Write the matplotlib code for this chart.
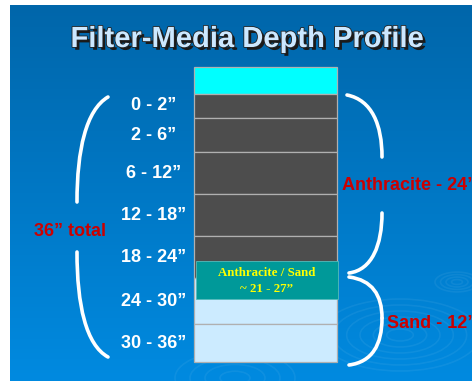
import numpy as np
import matplotlib
matplotlib.use("Agg")
import matplotlib.pyplot as plt
from matplotlib.path import Path
from matplotlib.patches import PathPatch, Ellipse
import matplotlib.patheffects as pe

# ---- data ----
title = "Filter-Media Depth Profile"
layer_names = ["Water", "0 - 2\u201d", "2 - 6\u201d", "6 - 12\u201d", "12 - 18\u201d",
               "18 - 24\u201d", "24 - 30\u201d", "30 - 36\u201d"]
layer_heights = [27, 24, 34, 42, 42, 42, 46, 38]          # schematic drawn heights
layer_colors = ["#00FFFF", "#4D4D4D", "#4D4D4D", "#4D4D4D", "#4D4D4D",
                "#4D4D4D", "#CCEBFF", "#CCEBFF"]
mix_label = "Anthracite / Sand\n~ 21 - 27\u201d"
mix_height = 38
total_label = "36\u201d total"
anthracite_label = "Anthracite - 24\u201d"
sand_label = "Sand - 12\u201d"

W, H = 472, 381
fig = plt.figure(figsize=(W / 100, H / 100), dpi=100)
fig.patch.set_facecolor("white")
ax = fig.add_axes([0, 0, 1, 1])
ax.set_xlim(0, W)
ax.set_ylim(H, 0)
ax.axis("off")

# background gradient
grad = np.linspace(0, 1, 256).reshape(-1, 1)
c_top = np.array([0, 102, 170]) / 255
c_bot = np.array([0, 138, 224]) / 255
img = c_top + (c_bot - c_top) * grad[..., None]
img = np.repeat(img, 2, axis=1)
ax.imshow(img, extent=[10, W + 5, H, 5], aspect="auto", zorder=0)

# faint ripples
for cx, cy, rmax, n in [(400, 335, 80, 6), (457, 282, 22, 4), (235, 378, 60, 4)]:
    for k in range(1, n + 1):
        r = rmax * k / n
        ax.add_patch(Ellipse((cx, cy), 2 * r, r * 0.9, fill=False,
                             ec=(1, 1, 1, 0.06), lw=1.2, zorder=1))

# title
ax.text(247, 47, title, ha="center", va="baseline", fontsize=21,
        family="Liberation Sans", weight="bold", color="#CCE8FF", zorder=10,
        path_effects=[pe.withSimplePatchShadow(offset=(2, -2), shadow_rgbFace="#1a1a1a", alpha=1.0),
                      pe.Stroke(linewidth=1.2, foreground="#222222"), pe.Normal()])

# stack of layers
top0 = 67
x0, bw = 194, 143
bottoms = top0 + np.concatenate([[0], np.cumsum(layer_heights)[:-1]])
ax.bar(x0 + bw / 2, layer_heights, bottom=bottoms, width=bw, color=layer_colors,
       edgecolor="#B0B0B0", linewidth=0.9, zorder=3)

# depth labels (skip water)
for name, b, h in zip(layer_names[1:], bottoms[1:], layer_heights[1:]):
    ax.text(154, b + h / 2, name, ha="center", va="center", fontsize=13,
            family="Liberation Sans", weight="bold", color="white", zorder=5)

# mixing zone overlay
mix_top = 261
ax.bar(x0 + 1 + bw / 2, mix_height, bottom=mix_top, width=bw - 1, color="#009999",
       edgecolor="#55BBBB", linewidth=0.6, zorder=4)
ax.text(x0 + bw / 2 + 1, mix_top + mix_height / 2 + 1, mix_label, ha="center", va="center",
        fontsize=9.3, family="Liberation Serif", weight="bold", color="#FFFF00",
        linespacing=1.35, zorder=6)

# brackets
def curve(pts):
    codes = [Path.MOVETO] + [Path.CURVE4] * (len(pts) - 1)
    ax.add_patch(PathPatch(Path(pts, codes), fill=False, ec="white", lw=2.6,
                           capstyle="round", zorder=6))

# left parenthesis
curve([(108, 97), (86, 110), (77, 150), (77, 202)])
curve([(77, 252), (77, 305), (86, 345), (108, 357)])
# anthracite brace
curve([(347, 95), (372, 100), (382, 125), (382, 157)])
curve([(382, 213), (382, 245), (372, 270), (349, 273)])
# sand brace
curve([(349, 277), (372, 280), (382, 295), (382, 318)])
curve([(382, 318), (382, 345), (372, 362), (349, 365)])

ax.text(70, 231, total_label, ha="center", va="center", fontsize=13,
        family="Liberation Sans", weight="bold", color="#CC0000", zorder=7)
ax.text(342, 185, anthracite_label, ha="left", va="center", fontsize=13,
        family="Liberation Sans", weight="bold", color="#CC0000", zorder=7)
ax.text(387, 323, sand_label, ha="left", va="center", fontsize=13,
        family="Liberation Sans", weight="bold", color="#CC0000", zorder=7)

fig.savefig("out.png", dpi=100, facecolor=fig.get_facecolor())
